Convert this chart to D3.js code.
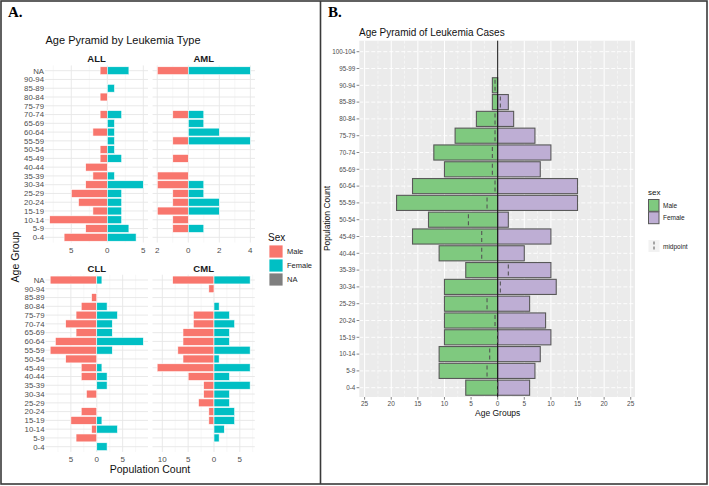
<!DOCTYPE html>
<html><head><meta charset="utf-8">
<script src="https://cdn.jsdelivr.net/npm/d3@7"></script>
<style>body{margin:0;background:#fff}svg{display:block}text{font-family:"Liberation Sans",Arial,sans-serif}</style>
</head><body>
<svg id="c" width="709" height="486"></svg>
<script>
// ---------- Panel A data (order: 0-4 ... 90-94, NA) ----------
const ageGroupsA = ["0-4","5-9","10-14","15-19","20-24","25-29","30-34","35-39","40-44","45-49","50-54","55-59","60-64","65-69","70-74","75-79","80-84","85-89","90-94","NA"];
const allMale   = [6,3,8,2,4,5,3,2,3,1,1,0,2,0,1,0,1,0,0,1];
const allFemale = [4,3,2,2,2,2,5,1,0,2,1,1,1,1,2,0,0,1,0,3];
const amlMale   = [0,1,1,2,1,1,2,2,0,1,0,1,0,0,1,0,0,0,0,2];
const amlFemale = [0,1,0,2,2,1,1,0,0,0,0,4,2,1,1,0,0,0,0,4];
const cllMale   = [0,4,1,5,3,0,2,0,3,3,6,9,8,4,6,4,3,1,0,9];
const cllFemale = [2,0,4,1,0,0,0,2,2,1,0,3,9,3,3,4,2,0,0,1];
const cmlMale   = [0,0,0,1,1,3,2,2,5,11,6,7,6,6,4,4,0,0,1,8];
const cmlFemale = [0,1,2,4,4,3,3,7,3,7,1,7,3,3,4,3,1,0,0,7];
const allTicks = [-5,0,5];
const amlTicks = [-2,0,2,4];
const cllTicks = [-5,0,5];
const cmlTicks = [-10,-5,0,5];
const legendA = ["Male","Female","NA"];

// ---------- Panel B data (order: 0-4 ... 100-104) ----------
const ageGroupsB = ["0-4","5-9","10-14","15-19","20-24","25-29","30-34","35-39","40-44","45-49","50-54","55-59","60-64","65-69","70-74","75-79","80-84","85-89","90-94","95-99","100-104"];
const totMale   = [6,11,11,10,10,10,10,6,11,16,13,19,16,10,12,8,4,1,1,0,0];
const totFemale = [6,7,8,10,9,6,11,10,5,10,2,15,15,8,10,7,3,2,0,0,0];
const ticksB = [-25,-20,-15,-10,-5,0,5,10,15,20,25];

const svg = d3.select("#c");
const colM = "#F8766D", colF = "#00BFC4", colNA = "#7F7F7F";

// frame
svg.append("rect").attr("x",1).attr("y",1).attr("width",706).attr("height",483)
  .attr("fill","none").attr("stroke","#3a3a3a").attr("stroke-width",1.6);
svg.append("line").attr("x1",320.5).attr("x2",320.5).attr("y1",1).attr("y2",484)
  .attr("stroke","#3a3a3a").attr("stroke-width",1.6);
svg.append("text").attr("x",8).attr("y",17).text("A.")
  .style("font-family","'Liberation Serif',serif").style("font-weight","bold").style("font-size","15px");
svg.append("text").attr("x",328).attr("y",17).text("B.")
  .style("font-family","'Liberation Serif',serif").style("font-weight","bold").style("font-size","15px");

// ---------- Panel A ----------
svg.append("text").attr("x",45.5).attr("y",43.5).text("Age Pyramid by Leukemia Type")
  .style("font-size","11px").attr("fill","#111");

const facets = [
  {name:"ALL", male:allMale, female:allFemale, ticks:allTicks, x0:45, x1:148, yTop:70.7, yBot:237.3, stripY:61.5, left:true},
  {name:"AML", male:amlMale, female:amlFemale, ticks:amlTicks, x0:152.6, x1:255, yTop:70.7, yBot:237.3, stripY:61.5, left:false},
  {name:"CLL", male:cllMale, female:cllFemale, ticks:cllTicks, x0:45.5, x1:148, yTop:280, yBot:446.7, stripY:271.5, left:true},
  {name:"CML", male:cmlMale, female:cmlFemale, ticks:cmlTicks, x0:152.5, x1:254.8, yTop:280, yBot:446.7, stripY:271.5, left:false}
];
const topDown = ageGroupsA.slice().reverse();
facets.forEach(f => {
  const mMax = d3.max(f.male), fMax = d3.max(f.female);
  const pad = (mMax + fMax) * 0.05;
  const x = d3.scaleLinear().domain([-mMax - pad, fMax + pad]).range([f.x0, f.x1]);
  const y = d3.scalePoint().domain(topDown).range([f.yTop, f.yBot]);
  const step = y.step();
  const pTop = f.yTop - 0.6*step, pBot = f.yBot + 0.6*step;
  const g = svg.append("g");
  // minor grid
  const minors = [];
  for (let i = 0; i < f.ticks.length - 1; i++) minors.push((f.ticks[i]+f.ticks[i+1])/2);
  const d = f.ticks[1]-f.ticks[0];
  minors.push(f.ticks[0]-d/2, f.ticks[f.ticks.length-1]+d/2);
  g.selectAll(".mn").data(minors.filter(v => v>=x.domain()[0] && v<=x.domain()[1])).join("line")
    .attr("x1",v=>x(v)).attr("x2",v=>x(v)).attr("y1",pTop).attr("y2",pBot)
    .attr("stroke","#F2F2F2").attr("stroke-width",0.6);
  g.selectAll(".mj").data(f.ticks).join("line")
    .attr("x1",v=>x(v)).attr("x2",v=>x(v)).attr("y1",pTop).attr("y2",pBot)
    .attr("stroke","#E6E6E6").attr("stroke-width",0.9);
  g.selectAll(".hy").data(topDown).join("line")
    .attr("x1",f.x0).attr("x2",f.x1).attr("y1",a=>y(a)).attr("y2",a=>y(a))
    .attr("stroke","#E6E6E6").attr("stroke-width",0.9);
  const bh = step*0.9;
  g.selectAll(".bm").data(ageGroupsA.map((a,i)=>({a,v:f.male[i]})).filter(o=>o.v>0)).join("rect")
    .attr("x",o=>x(-o.v)).attr("width",o=>x(0)-x(-o.v)).attr("y",o=>y(o.a)-bh/2).attr("height",bh)
    .attr("fill",colM).attr("stroke","#fff").attr("stroke-width",0.6);
  g.selectAll(".bf").data(ageGroupsA.map((a,i)=>({a,v:f.female[i]})).filter(o=>o.v>0)).join("rect")
    .attr("x",x(0)).attr("width",o=>x(o.v)-x(0)).attr("y",o=>y(o.a)-bh/2).attr("height",bh)
    .attr("fill",colF).attr("stroke","#fff").attr("stroke-width",0.6);
  // strip
  g.append("text").attr("x",(f.x0+f.x1)/2).attr("y",f.stripY).attr("text-anchor","middle")
    .text(f.name).style("font-size","9.5px").style("font-weight","bold").attr("fill","#1a1a1a");
  // x ticks
  g.selectAll(".xt").data(f.ticks).join("text")
    .attr("x",v=>x(v)).attr("y",pBot+10).attr("text-anchor","middle")
    .text(v=>Math.abs(v)).style("font-size","8px").attr("fill","#4D4D4D");
  if (f.left) {
    g.selectAll(".yt").data(topDown).join("text")
      .attr("x",f.x0-1).attr("y",a=>y(a)+2.8).attr("text-anchor","end")
      .text(a=>a).style("font-size","7.8px").attr("fill","#4D4D4D");
  }
});
svg.append("text").attr("x",150).attr("y",473).attr("text-anchor","middle")
  .text("Population Count").style("font-size","10.5px").attr("fill","#111");
svg.append("text").attr("transform","translate(19,257) rotate(-90)").attr("text-anchor","middle")
  .text("Age Group").style("font-size","10.5px").attr("fill","#111");
// legend A
svg.append("text").attr("x",268).attr("y",240.5).text("Sex").style("font-size","10px").attr("fill","#111");
const lgA = svg.append("g");
lgA.selectAll("rect").data(legendA).join("rect")
  .attr("x",269).attr("y",(d,i)=>245+i*14).attr("width",14).attr("height",13)
  .attr("fill",(d,i)=>[colM,colF,colNA][i]).attr("stroke","#fff").attr("stroke-width",0.8);
lgA.selectAll("text").data(legendA).join("text")
  .attr("x",287).attr("y",(d,i)=>254+i*14).text(d=>d).style("font-size","7.5px").attr("fill","#222");

// ---------- Panel B ----------
const xB = d3.scaleLinear().domain([-26,25.8]).range([359.3,635]);
const yB = d3.scalePoint().domain(ageGroupsB.slice().reverse()).range([51.7,387.7]);
const stepB = yB.step();
const pT = 40.7, pB = 397;
svg.append("text").attr("x",359).attr("y",36).text("Age Pyramid of Leukemia Cases")
  .style("font-size","10px").attr("fill","#111");
svg.append("rect").attr("x",xB.range()[0]).attr("y",pT).attr("width",xB.range()[1]-xB.range()[0]).attr("height",pB-pT)
  .attr("fill","#EBEBEB");
const gB = svg.append("g");
const minorB = ticksB.slice(0,-1).map((v,i)=>(v+ticksB[i+1])/2);
gB.selectAll(".mn").data(minorB).join("line")
  .attr("x1",v=>xB(v)).attr("x2",v=>xB(v)).attr("y1",pT).attr("y2",pB)
  .attr("stroke","#fff").attr("stroke-width",0.5).attr("stroke-dasharray","3,2");
gB.selectAll(".mj").data(ticksB).join("line")
  .attr("x1",v=>xB(v)).attr("x2",v=>xB(v)).attr("y1",pT).attr("y2",pB)
  .attr("stroke","#fff").attr("stroke-width",1);
gB.selectAll(".hy").data(ageGroupsB).join("line")
  .attr("x1",xB.range()[0]).attr("x2",xB.range()[1]).attr("y1",a=>yB(a)).attr("y2",a=>yB(a))
  .attr("stroke","#fff").attr("stroke-width",0.9).attr("stroke-dasharray","4,2");
const bhB = stepB*0.9;
gB.selectAll(".bm").data(ageGroupsB.map((a,i)=>({a,v:totMale[i]})).filter(o=>o.v>0)).join("rect")
  .attr("x",o=>xB(-o.v)).attr("width",o=>xB(0)-xB(-o.v)).attr("y",o=>yB(o.a)-bhB/2).attr("height",bhB)
  .attr("fill","#7FC97F").attr("stroke","#595959").attr("stroke-width",1.1);
gB.selectAll(".bf").data(ageGroupsB.map((a,i)=>({a,v:totFemale[i]})).filter(o=>o.v>0)).join("rect")
  .attr("x",xB(0)).attr("width",o=>xB(o.v)-xB(0)).attr("y",o=>yB(o.a)-bhB/2).attr("height",bhB)
  .attr("fill","#BEAED4").attr("stroke","#595959").attr("stroke-width",1.1);
gB.append("line").attr("x1",xB(0)).attr("x2",xB(0)).attr("y1",pT).attr("y2",pB)
  .attr("stroke","#111").attr("stroke-width",1);
// midpoints
const mids = ageGroupsB.map((a,i)=>({a,m:(totFemale[i]-totMale[i])/2,has:totMale[i]+totFemale[i]>0})).filter(o=>o.has);
gB.selectAll(".md").data(mids).join("line")
  .attr("x1",o=>xB(o.m)).attr("x2",o=>xB(o.m)).attr("y1",o=>yB(o.a)-5.5).attr("y2",o=>yB(o.a)+5.5)
  .attr("stroke","#555").attr("stroke-width",1.1).attr("stroke-dasharray","4,3");
// axes
gB.selectAll(".ytk").data(ageGroupsB).join("line")
  .attr("x1",xB.range()[0]-2.7).attr("x2",xB.range()[0]).attr("y1",a=>yB(a)).attr("y2",a=>yB(a))
  .attr("stroke","#333").attr("stroke-width",0.6);
gB.selectAll(".ytl").data(ageGroupsB).join("text")
  .attr("x",xB.range()[0]-4).attr("y",a=>yB(a)+2.2).attr("text-anchor","end")
  .text(a=>a).style("font-size","6.3px").attr("fill","#4D4D4D");
gB.selectAll(".xtk").data(ticksB).join("line")
  .attr("x1",v=>xB(v)).attr("x2",v=>xB(v)).attr("y1",pB).attr("y2",pB+2.7)
  .attr("stroke","#333").attr("stroke-width",0.6);
gB.selectAll(".xtl").data(ticksB).join("text")
  .attr("x",v=>xB(v)).attr("y",pB+9).attr("text-anchor","middle")
  .text(v=>Math.abs(v)).style("font-size","6.5px").attr("fill","#4D4D4D");
svg.append("text").attr("x",xB(0)).attr("y",416).attr("text-anchor","middle")
  .text("Age Groups").style("font-size","8.5px").attr("fill","#111");
svg.append("text").attr("transform","translate(329.5,218.5) rotate(-90)").attr("text-anchor","middle")
  .text("Population Count").style("font-size","8.5px").attr("fill","#111");
// legend B
svg.append("text").attr("x",648).attr("y",195).text("sex").style("font-size","8px").attr("fill","#111");
const lgB = svg.append("g");
[["Male","#7FC97F"],["Female","#BEAED4"]].forEach((d,i)=>{
  lgB.append("rect").attr("x",648.5).attr("y",199.5+i*12.4).attr("width",10.5).attr("height",11.8)
    .attr("fill",d[1]).attr("stroke","#595959").attr("stroke-width",1);
  lgB.append("text").attr("x",663).attr("y",207.5+i*12.4).text(d[0]).style("font-size","6.5px").attr("fill","#222");
});
lgB.append("rect").attr("x",648.5).attr("y",240).attr("width",11).attr("height",12).attr("fill","#F2F2F2");
lgB.append("line").attr("x1",654).attr("x2",654).attr("y1",241.5).attr("y2",250.5)
  .attr("stroke","#555").attr("stroke-width",1).attr("stroke-dasharray","3,2");
lgB.append("text").attr("x",663).attr("y",248.5).text("midpoint").style("font-size","6.5px").attr("fill","#222");
</script>
</body></html>
